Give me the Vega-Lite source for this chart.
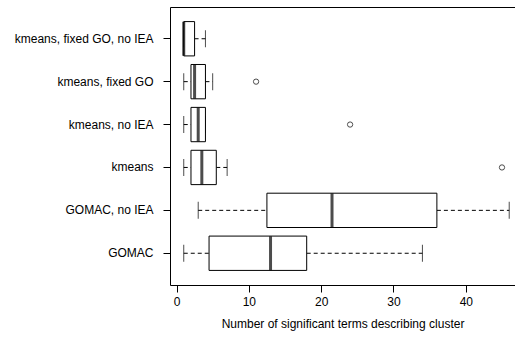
{
  "$schema": "https://vega.github.io/schema/vega-lite/v6.json",
  "autosize": "none",
  "width": 345,
  "height": 278,
  "padding": {"left": 170, "top": 7, "right": 0, "bottom": 64},
  "background": "white",
  "config": {
    "view": {"stroke": null},
    "font": "Liberation Sans",
    "axis": {
      "domainColor": "black",
      "tickColor": "black",
      "labelColor": "black",
      "titleColor": "black",
      "grid": false,
      "labelFont": "Liberation Sans",
      "titleFont": "Liberation Sans",
      "labelFontSize": 12,
      "titleFontSize": 12,
      "titleFontWeight": "normal"
    }
  },
  "datasets": {
    "stats": [
      {"g": "kmeans, fixed GO, no IEA", "min": 1, "q1": 1, "med": 1, "q3": 2.5, "max": 4},
      {"g": "kmeans, fixed GO", "min": 1, "q1": 2, "med": 2.5, "q3": 4, "max": 5},
      {"g": "kmeans, no IEA", "min": 1, "q1": 2, "med": 3, "q3": 4, "max": 4},
      {"g": "kmeans", "min": 1, "q1": 2, "med": 3.5, "q3": 5.5, "max": 7},
      {"g": "GOMAC, no IEA", "min": 3, "q1": 12.5, "med": 21.5, "q3": 36, "max": 46},
      {"g": "GOMAC", "min": 1, "q1": 4.5, "med": 13, "q3": 18, "max": 34}
    ],
    "outliers": [
      {"g": "kmeans, fixed GO", "v": 11},
      {"g": "kmeans, no IEA", "v": 24},
      {"g": "kmeans", "v": 45}
    ]
  },
  "encoding": {
    "y": {
      "field": "g",
      "type": "nominal",
      "sort": ["kmeans, fixed GO, no IEA", "kmeans, fixed GO", "kmeans, no IEA", "kmeans", "GOMAC, no IEA", "GOMAC"],
      "scale": {"type": "band", "paddingInner": 0, "paddingOuter": 0.24},
      "axis": {"title": null, "tickSize": 7, "labelPadding": 10, "domain": true, "labelLimit": 200}
    }
  },
  "layer": [
    {
      "data": {"name": "stats"},
      "mark": {"type": "rule", "color": "black", "strokeWidth": 1, "strokeDash": [4, 3]},
      "encoding": {
        "x": {
          "field": "min", "type": "quantitative",
          "scale": {"domain": [-0.9, 46.8], "nice": false, "zero": false},
          "axis": {
            "orient": "bottom",
            "values": [0, 10, 20, 30, 40],
            "tickSize": 7,
            "labelPadding": 4,
            "title": "Number of significant terms describing cluster",
            "titlePadding": 11
          }
        },
        "x2": {"field": "q1"}
      }
    },
    {
      "data": {"name": "stats"},
      "mark": {"type": "rule", "color": "black", "strokeWidth": 1, "strokeDash": [4, 3]},
      "encoding": {
        "x": {"field": "q3", "type": "quantitative", "axis": null},
        "x2": {"field": "max"}
      }
    },
    {
      "data": {"name": "stats"},
      "mark": {"type": "tick", "color": "black", "size": 17, "thickness": 1},
      "encoding": {
        "x": {"field": "min", "type": "quantitative", "axis": null}
      }
    },
    {
      "data": {"name": "stats"},
      "mark": {"type": "tick", "color": "black", "size": 17, "thickness": 1},
      "encoding": {
        "x": {"field": "max", "type": "quantitative", "axis": null}
      }
    },
    {
      "data": {"name": "stats"},
      "mark": {"type": "bar", "height": {"band": 0.8}, "fill": "white", "stroke": "black", "strokeWidth": 1},
      "encoding": {
        "x": {"field": "q1", "type": "quantitative", "axis": null},
        "x2": {"field": "q3"}
      }
    },
    {
      "data": {"name": "stats"},
      "mark": {"type": "tick", "color": "black", "size": 34, "thickness": 3},
      "encoding": {
        "x": {"field": "med", "type": "quantitative", "axis": null}
      }
    },
    {
      "data": {"name": "outliers"},
      "mark": {"type": "point", "shape": "circle", "filled": false, "color": "black", "size": 28, "strokeWidth": 1},
      "encoding": {
        "x": {
          "field": "v", "type": "quantitative",
          "axis": {"orient": "top", "labels": false, "ticks": false, "title": null, "domain": true}
        }
      }
    }
  ],
  "resolve": {"axis": {"x": "independent"}}
}
